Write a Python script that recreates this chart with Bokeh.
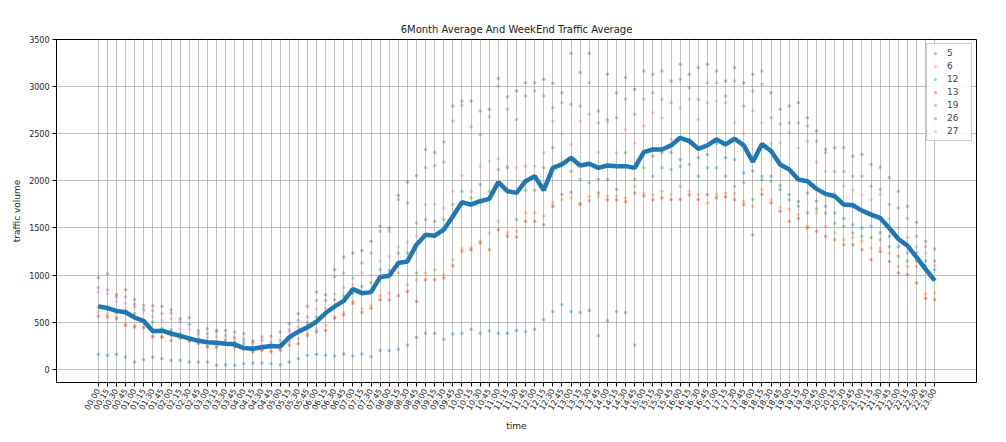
import math
from bokeh.plotting import figure
from bokeh.models import Range1d, FixedTicker, Legend, LegendItem, ColumnDataSource
from bokeh.embed import file_html
from bokeh.resources import INLINE

times = ["%02d:%02d" % (h, m) for h in range(24) for m in (0, 15, 30, 45)][:93]

avg_6month = [668, 650, 620, 605, 550, 512, 405, 410, 380, 355, 328, 302, 288, 282, 272, 265, 225, 218, 235, 247, 242, 340, 400, 445, 505,
              597, 667, 727, 851, 808, 819, 979, 993, 1128, 1145, 1323, 1429, 1418, 1482, 1624, 1773, 1748, 1784, 1808, 1986, 1890, 1872, 1996, 2050, 1901,
              2138, 2174, 2245, 2163, 2181, 2138, 2163, 2156, 2156, 2138,
              2305, 2333, 2333, 2376, 2457, 2422, 2340, 2376, 2440, 2386, 2447, 2376, 2202, 2390, 2316, 2174, 2120, 2014, 1996, 1915, 1862, 1837, 1748, 1741,
              1684, 1642, 1606, 1500, 1383, 1312, 1191, 1064, 943]

day5 = [159, 148, 159, 131, 78, 102, 131, 113, 95, 95, 78, 78, 78, 42, 49, 42, 60, 67, 67, 60, 49, 78, 113, 148, 159,
        148, 142, 163, 142, 163, 135, 199, 199, 213, 259, 337, 383, 383, 319, 376, 383, 426, 383, 408, 383, 383, 411, 400, 426, 525,
        613, 684, 613, 603, 624, 355, 514, 613, 603, 259,
        2300, 2262, 2298, 2300, 2227, 2440, 2245, 2280, 2400, 2245, 2227, 2085, 2103, 2050, 2050, 1907, 1855, 1780, 1872, 1783, 1730, 1660, 1600, 1535,
        1500, 1518, 1450, 1411, 1300, 1234, 1234, 1150, 1057]

day6 = [608, 590, 555, 490, 460, 455, 350, 350, 350, 343, 307, 290, 250, 250, 270, 260, 230, 200, 210, 200, 215, 290, 325, 380, 420,
        470, 560, 600, 720, 640, 680, 780, 808, 1021, 900, 950, 1021, 1057, 1004, 1163, 1280, 1290, 1360, 1447, 1571, 1447, 1464, 1660, 1660, 1624,
        1766, 1800, 1819, 1766, 1837, 1837, 1837, 1837, 1819, 1943,
        1872, 1851, 1890, 1855, 1943, 1890, 1855, 1766, 1855, 1872, 1865, 1784, 1730, 1907, 1800, 1720, 1696, 1642, 1518, 1660, 1518, 1450, 1376, 1400,
        1358, 1287, 1287, 1234, 1092, 1092, 1092, 800, 808]

day12 = [661, 640, 600, 625, 590, 519, 502, 431, 420, 380, 330, 325, 300, 290, 307, 290, 272, 237, 240, 237, 254, 320, 400, 484, 555,
         600, 738, 780, 808, 879, 918, 1057, 1050, 1234, 1234, 1021, 1589, 1571, 1589, 1748, 1890, 1819, 1961, 1890, 2120, 2138, 1589, 1900, 1900, 2138,
         2351, 2200, 2100, 2014, 1979, 2014, 2014, 1907, 2298, 2014,
         2138, 2050, 2138, 2120, 2156, 2174, 2050, 2138, 2138, 2050, 1943, 1979, 1801, 2010, 1996, 1950, 1800, 1730, 1660, 1700, 1660, 1550, 1518, 1447,
         1411, 1400, 1376, 1300, 1200, 1150, 1150, 1092, 950]

day13 = [562, 555, 537, 466, 449, 440, 343, 340, 307, 330, 300, 272, 237, 237, 265, 237, 219, 184, 201, 184, 201, 254, 272, 360, 396,
         413, 543, 578, 702, 603, 649, 738, 738, 780, 826, 720, 950, 950, 968, 1100, 1252, 1269, 1340, 1269, 1482, 1411, 1404, 1571, 1571, 1535,
         1730, 1855, 1879, 1750, 1790, 1872, 1800, 1800, 1780, 1872,
         1840, 1800, 1819, 1801, 1801, 1850, 1801, 1855, 1820, 1830, 1800, 1750, 1429, 1855, 1766, 1677, 1571, 1600, 1500, 1464, 1411, 1376, 1323, 1323,
         1269, 1163, 1250, 1145, 1021, 1004, 915, 755, 738]

day19 = [866, 844, 767, 767, 690, 640, 625, 590, 597, 502, 477, 380, 378, 396, 360, 343, 325, 290, 307, 290, 307, 420, 520, 555, 731,
         731, 986, 1021, 968, 1128, 1234, 1464, 1464, 1801, 1766, 1553, 2138, 2163, 2200, 2635, 2801, 2574, 2493, 2681, 3007, 2759, 2652, 2900, 2954, 2900,
         2776, 2830, 2812, 2794, 3042, 2617, 2652, 2670, 2865, 2706,
         2865, 2936, 2865, 2830, 3078, 2989, 2865, 3042, 3042, 2900, 3060, 2794, 2954, 3024, 2670, 2600, 2617, 2617, 2582, 2421, 2298, 2100, 2100, 2050,
         2050, 1943, 1907, 1748, 1713, 1600, 1411, 1300, 1150]

day26 = [972, 1014, 790, 844, 738, 678, 675, 668, 632, 537, 548, 413, 431, 413, 413, 396, 378, 300, 343, 350, 396, 484, 590, 668, 820,
         791, 1057, 1191, 1234, 1262, 1358, 1518, 1500, 1844, 1989, 2057, 2333, 2300, 2411, 2794, 2847, 2847, 2741, 2759, 3085, 2893, 2954, 3042, 3042, 3078,
         3035, 2936, 3354, 3149, 3354, 2741, 3131, 2936, 3096, 2972,
         3167, 3131, 3167, 3060, 3237, 3131, 3202, 3237, 3167, 3060, 3202, 3042, 3131, 3167, 2936, 2759, 2794, 2830, 2670, 2528, 2333, 2351, 2351, 2262,
         2280, 2174, 2145, 2032, 1890, 1730, 1560, 1358, 1277]

day27 = [820, 802, 720, 700, 661, 625, 560, 520, 537, 431, 431, 360, 343, 343, 320, 320, 300, 272, 254, 260, 280, 396, 449, 500, 640,
         650, 800, 868, 900, 1021, 1000, 1150, 1198, 1300, 1350, 1411, 1748, 1748, 1713, 1890, 2057, 1890, 2156, 2209, 2234, 2156, 2138, 2156, 2156, 2300,
         2635, 2500, 2386, 2635, 2706, 2300, 2624, 2298, 2546, 2400,
         2582, 2723, 2670, 2440, 2776, 2865, 2652, 2830, 2847, 2830, 2617, 2500, 2741, 2617, 2400, 2404, 2510, 2351, 2421, 2200, 2100, 1872, 1943, 1900,
         1850, 1800, 1855, 1600, 1500, 1400, 1300, 1234, 1100]

series_names = ["5", "6", "12", "13", "19", "26", "27"]
series_values = [day5, day6, day12, day13, day19, day26, day27]
series_colors = ["#1f77b4", "#ff7f0e", "#2ca02c", "#d62728", "#9467bd", "#8c564b", "#e377c2"]

for nm, vals in zip(series_names, series_values):
    if len(vals) != len(times):
        raise ValueError("series %s has %d values" % (nm, len(vals)))
if len(avg_6month) != len(times):
    raise ValueError("avg has %d" % len(avg_6month))

xs = list(range(len(times)))

p = figure(width=1006, height=442, output_backend="svg", toolbar_location=None,
           x_range=Range1d(-4.6, len(times) - 1 + 4.6), y_range=Range1d(-140, 3500),
           title="6Month Average And WeekEnd Traffic Average",
           min_border_left=56, min_border_right=30, min_border_top=39, min_border_bottom=60)
p.background_fill_color = "white"
p.border_fill_color = "white"
p.outline_line_color = "black"
p.outline_line_width = 1

p.title.align = "center"
p.title.text_font = "DejaVu Sans"
p.title.text_font_size = "10px"
p.title.text_font_style = "normal"
p.title.text_color = "#222222"

items = []
for nm, vals, col in zip(series_names, series_values, series_colors):
    src = ColumnDataSource(dict(x=xs, y=vals))
    r = p.scatter("x", "y", source=src, size=3.5, color=col, alpha=0.4, line_width=0)
    items.append(LegendItem(label=nm, renderers=[r]))

p.line(xs, avg_6month, line_width=4.5, color="#1f77b4")

legend = Legend(items=items, location="top_right")
legend.label_text_font = "DejaVu Sans"
legend.label_text_font_size = "9px"
legend.glyph_width = 8
legend.glyph_height = 10
legend.spacing = 3
legend.padding = 4
legend.margin = 4
legend.label_standoff = 8
legend.border_line_color = "#cccccc"
legend.border_line_alpha = 1
legend.background_fill_alpha = 0.85
p.add_layout(legend)

p.xaxis.ticker = FixedTicker(ticks=xs)
p.xaxis.major_label_overrides = {i: t for i, t in enumerate(times)}
p.xaxis.major_label_orientation = math.pi / 3
p.yaxis.ticker = FixedTicker(ticks=[0, 500, 1000, 1500, 2000, 2500, 3000, 3500])

for ax in (p.xaxis, p.yaxis):
    ax.major_label_text_font = "DejaVu Sans"
    ax.major_label_text_font_size = "8px"
    ax.major_label_text_color = "#222222"
    ax.axis_label_text_font = "DejaVu Sans"
    ax.axis_label_text_font_size = "9px"
    ax.axis_label_text_font_style = "normal"
    ax.axis_label_text_color = "#222222"
    ax.minor_tick_line_color = None
    ax.major_tick_out = 4
    ax.major_tick_in = 0
    ax.axis_line_color = "black"
    ax.major_label_standoff = 3
    ax.axis_label_standoff = 4

p.xaxis.axis_label = "time"
p.yaxis.axis_label = "traffic volume"

p.xgrid.grid_line_color = "#b0b0b0"
p.xgrid.grid_line_width = 0.8
p.ygrid.grid_line_color = "#b0b0b0"
p.ygrid.grid_line_width = 0.8

open("out.html", "w").write(file_html(p, INLINE))
